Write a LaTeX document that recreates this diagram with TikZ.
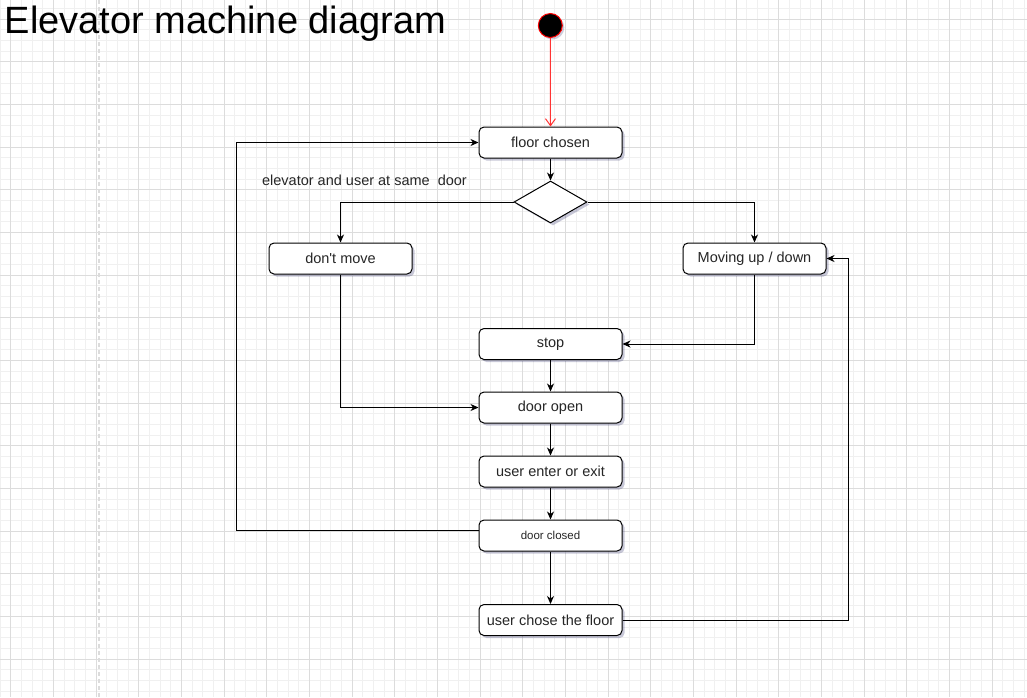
\documentclass[tikz,border=0pt]{standalone}
\usepackage{fontspec}
\setmainfont{Liberation Sans}[Ligatures=TeXOff]
\usetikzlibrary{shapes.geometric,arrows.meta,shadows}
\definecolor{gminor}{HTML}{F0F0F0}
\definecolor{gmajor}{HTML}{DCDCDC}
\definecolor{startred}{HTML}{FF0000}
\definecolor{arrred}{HTML}{FF3333}
\tikzset{
  statebox/.style={draw=black, line width=1pt, rounded corners=5pt, fill=white,
    minimum width=143pt, minimum height=31pt, inner sep=0pt,
    font=\fontsize{14.5}{16}\selectfont, text=black!85,
    drop shadow={shadow xshift=2.5pt, shadow yshift=-2.5pt, opacity=0.22, fill=black!70!blue}},
  decision/.style={draw=black, line width=1pt, diamond, aspect=1.74, fill=white,
    minimum width=73pt, minimum height=42pt, inner sep=0pt,
    drop shadow={shadow xshift=2.5pt, shadow yshift=-2.5pt, opacity=0.22, fill=black!70!blue}},
  conn/.style={draw=black, line width=1pt, -{Stealth[length=8pt,width=7pt,inset=2.5pt]}},
  startconn/.style={draw=arrred, line width=1pt, -{Straight Barb[length=7pt,width=10pt]}},
}
\begin{document}
\begin{tikzpicture}[x=1pt,y=-1pt]
\useasboundingbox (0,0) rectangle (1027,697);
\fill[white] (0,0) rectangle (1027,697);
% grid
\foreach \k in {0,...,96} \draw[gminor, line width=0.8pt] ({10.667*\k},0) -- ({10.667*\k},697);
\foreach \k in {0,...,65} \draw[gminor, line width=0.8pt] (0,{8.33+10.667*\k}) -- (1027,{8.33+10.667*\k});
\foreach \k in {0,...,24} \draw[gmajor, line width=0.8pt] ({10.667+42.667*\k},0) -- ({10.667+42.667*\k},697);
\foreach \k in {0,...,16} \draw[gmajor, line width=0.8pt] (0,{19+42.667*\k}) -- (1027,{19+42.667*\k});
\draw[gmajor, line width=1.2pt, dash pattern=on 4pt off 3pt] (99,0) -- (99,697);
% title
\node[anchor=base west, inner sep=0pt, font=\fontsize{38}{40}\selectfont] (title) at (4.5,33) {Elevator machine diagram};
% start
\node[circle, fill=black, draw=startred, line width=1pt, minimum size=24pt, inner sep=0pt,
  drop shadow={shadow xshift=2pt, shadow yshift=-2pt, opacity=0.2, fill=black!70!blue}] (start) at (550.3,25.5) {};
% states
\node[statebox] (fc) at (550.5,142.5) {floor chosen};
\node[decision] (dia) at (550.5,202) {};
\node[statebox] (dm) at (340.5,258.5) {don't move};
\node[statebox] (mv) at (754.5,258.5) {Moving up / down};
\node[statebox] (stop) at (550.5,344) {stop};
\node[statebox] (open) at (550.5,407.5) {door open};
\node[statebox] (ue) at (550.5,471.5) {user enter or exit};
\node[statebox, font=\fontsize{11.5}{13}\selectfont] (closed) at (550.5,535.5) {door closed};
\node[statebox] (uc) at (550.5,620) {user chose the floor};
\node[font=\fontsize{14.5}{16}\selectfont, text=black!85, inner sep=0pt] (lbl) at (364.5,180) {elevator and user at same~ door};
% connectors
\draw[startconn] (start.south) -- (fc.north);
\draw[conn] (fc.south) -- (dia.north);
\draw[conn] (dia.west) -| (dm.north);
\draw[conn] (dia.east) -| (mv.north);
\draw[conn] (mv.south) |- (stop.east);
\draw[conn] (dm.south) |- (open.west);
\draw[conn] (stop.south) -- (open.north);
\draw[conn] (open.south) -- (ue.north);
\draw[conn] (ue.south) -- (closed.north);
\draw[conn] (closed.south) -- (uc.north);
\draw[conn] ([yshift=5.5pt]closed.west) -- ++(-242,0) |- (fc.west);
\draw[conn] (uc.east) -- ++(226,0) |- (mv.east);
\end{tikzpicture}
\end{document}
